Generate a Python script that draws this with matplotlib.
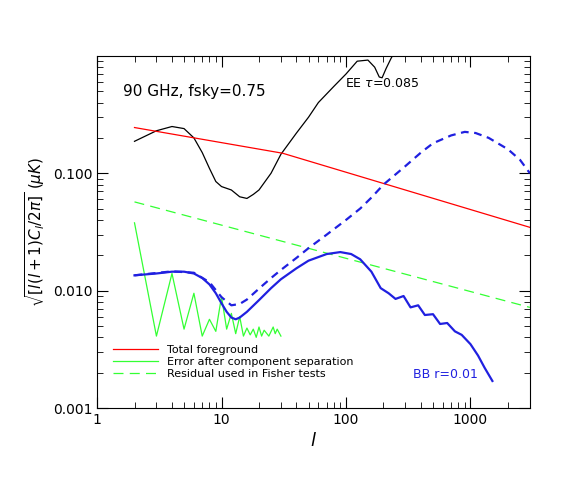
import matplotlib
matplotlib.use('Agg')
import matplotlib.pyplot as plt
import numpy as np

# Total foreground (red)
fg_l = [2, 31, 3000]
fg_c = [0.245, 0.148, 0.0346]
# Residual used in Fisher tests (green dashed)
res_l = [2, 3000]
res_c = [0.057, 0.0072]
# Error after component separation (green solid)
err_l = [2, 3, 4, 5, 6, 7, 8, 9, 10, 11, 12, 13, 14, 15, 16, 17, 18, 19, 20, 21, 22, 24, 26, 27, 28, 30]
err_c = [0.0378, 0.0041, 0.014, 0.0047, 0.0095, 0.0041, 0.0057, 0.0045, 0.0089, 0.0047, 0.0064, 0.0043,
         0.006, 0.0041, 0.0048, 0.0042, 0.0047, 0.004, 0.0049, 0.0041, 0.0046, 0.0041, 0.0049, 0.0043, 0.0047, 0.0041]
# BB r=0.01 (blue solid = primordial, dashed = with lensing)
bb_l = [2, 3, 4, 5, 6, 7, 8, 9, 10, 11, 12, 13, 14, 16, 20, 25, 30, 40, 50, 70, 90, 110, 130, 160, 190, 220,
        250, 290, 330, 380, 430, 500, 570, 650, 750, 850, 1000, 1150, 1300, 1500]
bb_c = [0.0135, 0.014, 0.0145, 0.0145, 0.014, 0.0128, 0.0113, 0.0095, 0.0078, 0.0066, 0.0059, 0.0057, 0.0059,
        0.0066, 0.0083, 0.0105, 0.0125, 0.0155, 0.018, 0.0205, 0.0213, 0.0205, 0.0185, 0.0145, 0.0105, 0.0095,
        0.0085, 0.009, 0.0072, 0.0075, 0.0062, 0.0063, 0.0052, 0.0053, 0.0045, 0.0042, 0.0035, 0.0028, 0.0022, 0.0017]
bbl_l = [2, 4, 6, 8, 10, 12, 14, 16, 20, 25, 30, 40, 50, 70, 100, 130, 160, 200, 300, 400, 500, 700, 900, 1100,
         1400, 2000, 2500, 3000]
bbl_c = [0.0135, 0.0146, 0.0142, 0.0118, 0.0088, 0.0075, 0.0077, 0.0084, 0.0104, 0.0128, 0.015, 0.019, 0.023,
         0.03, 0.04, 0.05, 0.062, 0.08, 0.115, 0.15, 0.18, 0.21, 0.225, 0.22, 0.2, 0.16, 0.13, 0.1]
# EE tau=0.085 (black)
ee_l = [2, 3, 4, 5, 6, 7, 8, 9, 10, 12, 14, 16, 18, 20, 25, 30, 40, 50, 60, 80, 100, 123, 150, 170, 185, 195,
        210, 230, 260]
ee_c = [0.187, 0.23, 0.25, 0.24, 0.2, 0.15, 0.11, 0.085, 0.077, 0.072, 0.063, 0.061, 0.066, 0.072, 0.1, 0.145,
        0.22, 0.3, 0.4, 0.55, 0.7, 0.9, 0.92, 0.8, 0.66, 0.65, 0.78, 0.95, 1.2]

fig = plt.figure(figsize=(5.81, 4.94), dpi=100)
ax = fig.add_axes([0.167, 0.174, 0.745, 0.713])
ax.set_xscale('log')
ax.set_yscale('log')

ax.plot(ee_l, ee_c, color='black', lw=0.9)
ax.plot(fg_l, fg_c, color='red', lw=0.9, label='Total foreground')
ax.plot(err_l, err_c, color='#33ff33', lw=0.9, label='Error after component separation')
ax.plot(res_l, res_c, color='#33ff33', lw=0.9, ls=(0, (8, 5)), label='Residual used in Fisher tests')
ax.plot(bbl_l, bbl_c, color='#2020e0', lw=1.6, ls=(0, (3.5, 2.5)))
ax.plot(bb_l, bb_c, color='#2020e0', lw=1.6)

ax.set_xlim(1, 3000)
ax.set_ylim(0.001, 1)
ax.set_yticks([0.001, 0.01, 0.1])
ax.set_yticklabels(['0.001', '0.010', '0.100'])
ax.set_xticks([1, 10, 100, 1000])
ax.set_xticklabels(['1', '10', '100', '1000'])
ax.tick_params(which='both', direction='in', top=True, right=True, labelsize=10)
ax.tick_params(which='major', length=8)
ax.tick_params(which='minor', length=4)

ax.set_xlabel(r'$l$', fontsize=13)
ax.set_ylabel(r'$\sqrt{[l(l+1)C_l/2\pi]}\ (\mu K)$', fontsize=11)

ax.text(0.06, 0.9, '90 GHz, fsky=0.75', transform=ax.transAxes, fontsize=11, va='center')
ax.text(0.574, 0.922, r'EE $\tau$=0.085', transform=ax.transAxes, fontsize=9, va='center')
ax.text(0.73, 0.095, 'BB r=0.01', transform=ax.transAxes, fontsize=9, va='center', color='#2020e0')

ax.legend(loc='lower left', bbox_to_anchor=(0.02, 0.06), frameon=False, fontsize=8,
          handlelength=4, labelspacing=0.2, borderpad=0.2)
fig.savefig('out.png', dpi=100)
